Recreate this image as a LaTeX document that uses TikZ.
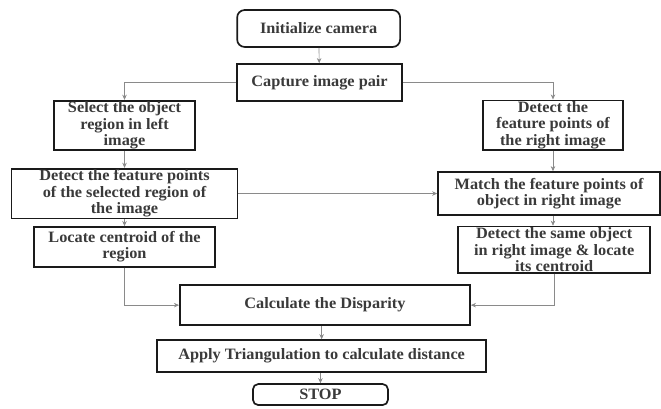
\documentclass[tikz,border=0pt]{standalone}
\usepackage{fontspec}
\setmainfont{Liberation Serif}[FakeStretch=1.03]
\usetikzlibrary{arrows.meta, positioning}
\definecolor{boxline}{HTML}{1A1A1A}
\definecolor{flowline}{HTML}{8A8A8A}
\definecolor{inktext}{HTML}{3A3A3A}
\tikzset{
  font=\fontsize{15}{15.6}\selectfont\bfseries,
  procbox/.style={rectangle, draw=boxline, line width=1.6pt, fill=white, text=inktext,
                  align=center, inner sep=1pt},
  termbox/.style={procbox, rounded corners=7pt},
  flow/.style={-{Stealth[length=1.7mm, width=1.5mm]}, draw=flowline, line width=0.6pt},
}

\begin{document}
\begin{tikzpicture}
  \useasboundingbox (0,0) rectangle (22.03,13.6);
  % --- centre column ---
  \node[termbox, minimum width=5.43cm, minimum height=1.23cm] (init) at (10.62, 12.65) {Initialize camera};
  \node[procbox, minimum width=5.5cm,  minimum height=1.23cm] (capture) at (10.65, 10.85) {Capture image pair};

  % --- left branch (selected object in the left image) ---
  \node[procbox, minimum width=4.7cm,  minimum height=1.57cm] (selreg) at (4.15, 9.42) {Select the object\\ region in left\\ image};
  \node[procbox, minimum width=7.53cm, minimum height=1.6cm]  (featleft) at (4.15, 7.15) {Detect the feature points\\ of the selected region of\\ the  image};
  \node[procbox, minimum width=6.03cm, minimum height=1.33cm] (centleft) at (4.15, 5.37) {Locate centroid of the\\ region};

  % --- right branch (matching in the right image) ---
  \node[procbox, minimum width=4.67cm, minimum height=1.53cm] (featright) at (18.43, 9.43) {Detect the\\ feature points of\\ the right  image};
  \node[procbox, minimum width=7.4cm,  minimum height=1.43cm] (match) at (18.3, 7.15) {Match the feature points of\\ object in right image};
  \node[procbox, minimum width=6.4cm,  minimum height=1.5cm]  (centright) at (18.47, 5.28) {Detect the same object\\ in right image \& locate\\ its centroid};

  % --- bottom of the chart ---
  \node[procbox, minimum width=9.67cm, minimum height=1.33cm] (disp) at (10.83, 3.43) {Calculate the Disparity};
  \node[procbox, minimum width=10.97cm, minimum height=1.07cm] (tri) at (10.72, 1.73) {Apply Triangulation to calculate distance};
  \node[termbox, rounded corners=5pt, minimum width=4.5cm, minimum height=0.7cm] (stop) at (10.68, 0.45) {STOP};

  % --- connectors ---
  \draw[flow] (init) -- (capture);
  \draw[flow] (capture.west) -| (selreg.north);
  \draw[flow] (capture.east) -| (featright.north);
  \draw[flow] (selreg) -- (featleft);
  \draw[flow] (featleft) -- (centleft);
  \draw[flow] (featleft.east) -- (match.west);
  \draw[flow] (featright.south) -- (featright.south |- match.north);
  \draw[flow] (featright.south |- match.south) -- (featright.south |- centright.north);
  \draw[flow] (centleft.south) |- (disp.west);
  \draw[flow] (centright.south) |- (disp.east);
  \draw[flow] (disp.south -| tri.north) -- (tri.north);
  \draw[flow] (tri.south -| stop.north) -- (stop.north);
\end{tikzpicture}
\end{document}
